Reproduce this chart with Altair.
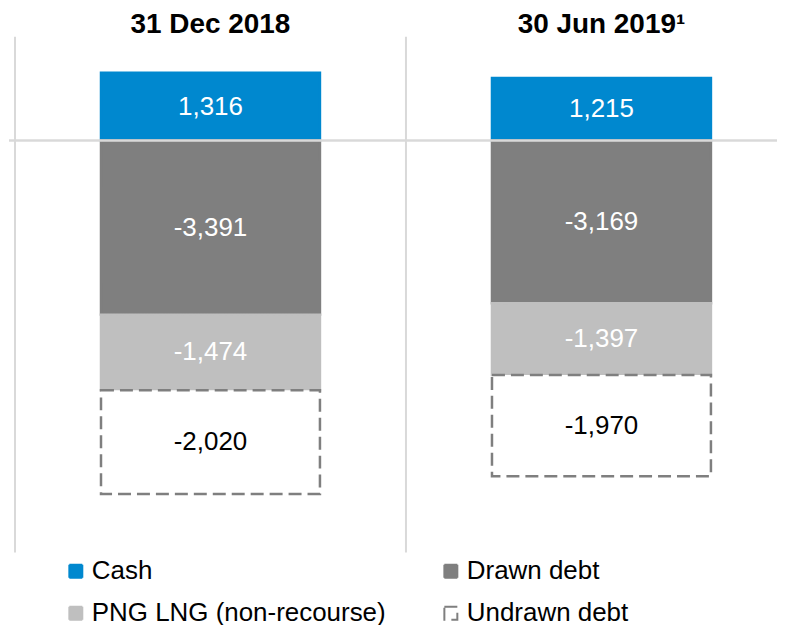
import altair as alt
import pandas as pd

periods = ["31 Dec 2018", "30 Jun 2019¹"]
categories = ["Cash", "Drawn debt", "PNG LNG (non-recourse)", "Undrawn debt"]
values_dec2018 = [1316, -3391, -1474, -2020]
values_jun2019 = [1215, -3169, -1397, -1970]

fill_colors = ["#0088CF", "#7F7F7F", "#BFBFBF", "#FFFFFF"]
stroke_colors = ["#0088CF", "#7F7F7F", "#BFBFBF", "#7F7F7F"]
dashes = [[1, 0], [1, 0], [1, 0], [13, 6]]

Y_TOP, Y_BOTTOM = 2020, -8020

rows = []
for period, vals in zip(periods, [values_dec2018, values_jun2019]):
    pos, neg = 0, 0
    for i, (cat, v) in enumerate(zip(categories, vals)):
        if v >= 0:
            lo, hi = pos, pos + v
            pos = hi
        else:
            lo, hi = neg, neg + v
            neg = hi
        rows.append({
            "period": period, "category": cat, "value": v, "ord": i,
            "lo": lo, "hi": hi, "mid": (lo + hi) / 2,
            "label": f"{v:,}",
        })
df = pd.DataFrame(rows)
pdf = pd.DataFrame({"period": periods, "top": [Y_TOP] * 2, "bottom": [Y_BOTTOM] * 2, "zero": [0, 0]})

FONT = "Liberation Sans"

xscale = alt.Scale(domain=periods, range=[6, 790], paddingInner=0, paddingOuter=0)
yscale = alt.Scale(domain=[-8020, 2563], nice=False, zero=False)

seps = alt.Chart(pdf).mark_rule(color="#D9D9D9", strokeWidth=2).encode(
    x=alt.X("period:N", scale=xscale, axis=None, bandPosition=0),
    y=alt.Y("top:Q", scale=yscale, axis=None),
    y2="bottom:Q",
)

bars = alt.Chart(df).mark_bar(width=alt.RelativeBandSize(0.56), strokeWidth=2.5).encode(
    x=alt.X("period:N", scale=xscale, axis=None),
    y=alt.Y("lo:Q", scale=yscale, axis=None),
    y2="hi:Q",
    fill=alt.Fill("category:N", scale=alt.Scale(domain=categories, range=fill_colors), title=None),
    stroke=alt.Stroke("category:N", scale=alt.Scale(domain=categories, range=stroke_colors), title=None),
    strokeDash=alt.StrokeDash("category:N", scale=alt.Scale(domain=categories, range=dashes), title=None),
)

zero = alt.Chart(pdf).mark_rule(color="#D9D9D9", strokeWidth=2).encode(
    y=alt.Y("zero:Q", scale=yscale, axis=None),
)

labels = alt.Chart(df).mark_text(font=FONT, fontSize=26, baseline="middle").encode(
    x=alt.X("period:N", scale=xscale, axis=None),
    y=alt.Y("mid:Q", scale=yscale, axis=None),
    text="label:N",
    color=alt.condition(alt.datum.category == "Undrawn debt", alt.value("#000000"), alt.value("#FFFFFF")),
)

titles = alt.Chart(pdf).mark_text(font=FONT, fontSize=28, fontWeight="bold", baseline="middle", color="#000000").encode(
    x=alt.X("period:N", scale=xscale, axis=None),
    y=alt.value(16),
    text="period:N",
)

chart = alt.layer(seps, bars, zero, labels, titles).properties(
    width=770, height=545, padding=0, background="#FFFFFF"
).configure_view(stroke=None).configure_legend(
    orient="none", legendX=54, legendY=551, columns=2, direction="horizontal",
    columnPadding=52, rowPadding=16,
    symbolSize=169, symbolType="square", symbolStrokeWidth=2,
    labelFont=FONT, labelFontSize=26, labelColor="#000000", labelOffset=3, labelLimit=0,
)

chart.save("out.html", embed_options={"renderer": "svg", "actions": False})
